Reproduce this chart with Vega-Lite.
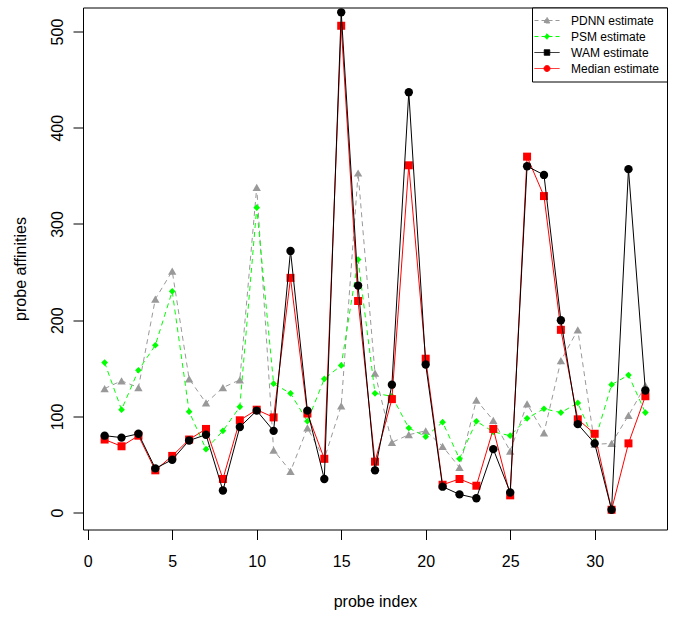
{
  "$schema": "https://vega.github.io/schema/vega-lite/v6.json",
  "autosize": "none",
  "width": 584,
  "height": 522,
  "padding": {"left": 83, "top": 7.5, "right": 18, "bottom": 91.5},
  "background": "white",
  "data": {
    "values": [
      {"index": 1, "PDNN estimate": 129, "PSM estimate": 156, "WAM estimate": 80, "Median estimate": 76},
      {"index": 2, "PDNN estimate": 137, "PSM estimate": 107, "WAM estimate": 78, "Median estimate": 69},
      {"index": 3, "PDNN estimate": 130, "PSM estimate": 148, "WAM estimate": 82, "Median estimate": 80},
      {"index": 4, "PDNN estimate": 222, "PSM estimate": 174, "WAM estimate": 46, "Median estimate": 44},
      {"index": 5, "PDNN estimate": 251, "PSM estimate": 230, "WAM estimate": 55, "Median estimate": 59},
      {"index": 6, "PDNN estimate": 139, "PSM estimate": 105, "WAM estimate": 75, "Median estimate": 76},
      {"index": 7, "PDNN estimate": 114, "PSM estimate": 66, "WAM estimate": 81, "Median estimate": 87},
      {"index": 8, "PDNN estimate": 130, "PSM estimate": 85, "WAM estimate": 23, "Median estimate": 35},
      {"index": 9, "PDNN estimate": 138, "PSM estimate": 110, "WAM estimate": 89, "Median estimate": 96},
      {"index": 10, "PDNN estimate": 338, "PSM estimate": 317, "WAM estimate": 106, "Median estimate": 107},
      {"index": 11, "PDNN estimate": 65, "PSM estimate": 134, "WAM estimate": 85, "Median estimate": 99},
      {"index": 12, "PDNN estimate": 43, "PSM estimate": 124, "WAM estimate": 272, "Median estimate": 244},
      {"index": 13, "PDNN estimate": 88, "PSM estimate": 95, "WAM estimate": 106, "Median estimate": 103},
      {"index": 14, "PDNN estimate": 56, "PSM estimate": 139, "WAM estimate": 35, "Median estimate": 56},
      {"index": 15, "PDNN estimate": 111, "PSM estimate": 153, "WAM estimate": 520, "Median estimate": 506},
      {"index": 16, "PDNN estimate": 353, "PSM estimate": 263, "WAM estimate": 236, "Median estimate": 220},
      {"index": 17, "PDNN estimate": 145, "PSM estimate": 124, "WAM estimate": 44, "Median estimate": 53},
      {"index": 18, "PDNN estimate": 73, "PSM estimate": 121, "WAM estimate": 133, "Median estimate": 118},
      {"index": 19, "PDNN estimate": 81, "PSM estimate": 88, "WAM estimate": 437, "Median estimate": 361},
      {"index": 20, "PDNN estimate": 85, "PSM estimate": 79, "WAM estimate": 154, "Median estimate": 160},
      {"index": 21, "PDNN estimate": 69, "PSM estimate": 94, "WAM estimate": 27, "Median estimate": 29},
      {"index": 22, "PDNN estimate": 47, "PSM estimate": 56, "WAM estimate": 19, "Median estimate": 35},
      {"index": 23, "PDNN estimate": 117, "PSM estimate": 95, "WAM estimate": 15, "Median estimate": 28},
      {"index": 24, "PDNN estimate": 96, "PSM estimate": 84, "WAM estimate": 66, "Median estimate": 87},
      {"index": 25, "PDNN estimate": 64, "PSM estimate": 80, "WAM estimate": 21, "Median estimate": 18},
      {"index": 26, "PDNN estimate": 113, "PSM estimate": 98, "WAM estimate": 360, "Median estimate": 370},
      {"index": 27, "PDNN estimate": 83, "PSM estimate": 108, "WAM estimate": 351, "Median estimate": 329},
      {"index": 28, "PDNN estimate": 158, "PSM estimate": 104, "WAM estimate": 200, "Median estimate": 190},
      {"index": 29, "PDNN estimate": 190, "PSM estimate": 114, "WAM estimate": 92, "Median estimate": 97},
      {"index": 30, "PDNN estimate": 71, "PSM estimate": 74, "WAM estimate": 72, "Median estimate": 82},
      {"index": 31, "PDNN estimate": 72, "PSM estimate": 133, "WAM estimate": 3, "Median estimate": 3},
      {"index": 32, "PDNN estimate": 101, "PSM estimate": 143, "WAM estimate": 357, "Median estimate": 72},
      {"index": 33, "PDNN estimate": 132, "PSM estimate": 104, "WAM estimate": 127, "Median estimate": 121}
    ]
  },
  "encoding": {
    "x": {
      "field": "index",
      "type": "quantitative",
      "title": "probe index",
      "scale": {"domain": [-0.28, 34.28], "nice": false, "zero": false},
      "axis": {"values": [0, 5, 10, 15, 20, 25, 30], "labelPadding": 14, "titlePadding": 24}
    }
  },
  "layer": [
    {
      "mark": {"type": "line", "color": "#999999", "strokeWidth": 1, "strokeDash": [5, 4]},
      "encoding": {"y": {"field": "PDNN estimate", "type": "quantitative", "title": "probe affinities", "scale": {"domain": [-17.5, 525], "nice": false, "zero": false}, "axis": {"values": [0, 100, 200, 300, 400, 500], "labelAngle": -90, "labelAlign": "center", "labelBaseline": "bottom", "labelPadding": 8, "titleX": -63, "titleY": 261, "titleAngle": -90, "titleBaseline": "middle", "titleAlign": "center"}}}
    },
    {
      "mark": {"type": "point", "shape": "triangle-up", "filled": true, "size": 70, "color": "#999999", "opacity": 1},
      "encoding": {"y": {"field": "PDNN estimate", "type": "quantitative", "title": "probe affinities"}}
    },
    {
      "mark": {"type": "line", "color": "#00ff00", "strokeWidth": 1, "strokeDash": [5, 4]},
      "encoding": {"y": {"field": "PSM estimate", "type": "quantitative", "title": "probe affinities"}}
    },
    {
      "mark": {"type": "point", "shape": "diamond", "filled": true, "size": 45, "color": "#00ff00", "opacity": 1},
      "encoding": {"y": {"field": "PSM estimate", "type": "quantitative", "title": "probe affinities"}}
    },
    {
      "mark": {"type": "line", "color": "#ff0000", "strokeWidth": 1},
      "encoding": {"y": {"field": "Median estimate", "type": "quantitative", "title": "probe affinities"}}
    },
    {
      "mark": {"type": "point", "shape": "square", "filled": true, "size": 64, "color": "#ff0000", "opacity": 1},
      "encoding": {"y": {"field": "Median estimate", "type": "quantitative", "title": "probe affinities"}}
    },
    {
      "mark": {"type": "line", "color": "#000000", "strokeWidth": 1},
      "encoding": {"y": {"field": "WAM estimate", "type": "quantitative", "title": "probe affinities"}}
    },
    {
      "mark": {"type": "point", "shape": "circle", "filled": true, "size": 70, "color": "#000000", "opacity": 1},
      "encoding": {"y": {"field": "WAM estimate", "type": "quantitative", "title": "probe affinities"}}
    },
    {
      "transform": [{"fold": ["PDNN estimate", "PSM estimate", "WAM estimate", "Median estimate"], "as": ["series", "value"]}],
      "mark": {"type": "point", "opacity": 0, "size": 100},
      "encoding": {
        "y": {"field": "value", "type": "quantitative", "title": "probe affinities"},
        "fill": {
          "field": "series", "type": "nominal",
          "scale": {"domain": ["PDNN estimate", "PSM estimate", "WAM estimate", "Median estimate"], "range": ["#999999", "#00ff00", "#000000", "#ff0000"]},
          "legend": {"title": null, "orient": "top-right", "offset": 0}
        },
        "stroke": {
          "field": "series", "type": "nominal",
          "scale": {"domain": ["PDNN estimate", "PSM estimate", "WAM estimate", "Median estimate"], "range": ["#999999", "#00ff00", "#000000", "#ff0000"]},
          "legend": {"title": null, "orient": "top-right", "offset": 0}
        },
        "shape": {
          "field": "series", "type": "nominal",
          "scale": {"domain": ["PDNN estimate", "PSM estimate", "WAM estimate", "Median estimate"], "range": [
            "M-2.5,0H2.5M0,-0.65L0.65,0.5L-0.65,0.5Z",
            "M-2.5,0H2.5M0,-0.55L0.55,0L0,0.55L-0.55,0Z",
            "M-2.5,0H2.5M-0.55,-0.55H0.55V0.55H-0.55Z",
            "M-2.5,0H2.5M-0.6,0A0.6,0.6,0,1,1,0.6,0A0.6,0.6,0,1,1,-0.6,0Z"
          ]},
          "legend": {"title": null, "orient": "top-right", "offset": 0}
        },
        "strokeDash": {
          "field": "series", "type": "nominal",
          "scale": {"domain": ["PDNN estimate", "PSM estimate", "WAM estimate", "Median estimate"], "range": [[4, 3], [4, 3], [1, 0], [1, 0]]},
          "legend": {"title": null, "orient": "top-right", "offset": 0}
        }
      }
    }
  ],
  "config": {
    "font": "Liberation Sans",
    "view": {"stroke": "#000000", "strokeWidth": 1},
    "axis": {
      "domain": false,
      "grid": false,
      "ticks": true,
      "tickColor": "#000000",
      "tickSize": 10,
      "tickWidth": 1,
      "labelFont": "Liberation Sans",
      "labelFontSize": 16,
      "labelColor": "#000000",
      "labelFlush": false,
      "labelOverlap": false,
      "titleFont": "Liberation Sans",
      "titleFontSize": 16,
      "titleFontWeight": "normal",
      "titleColor": "#000000"
    },
    "legend": {
      "labelFont": "Liberation Sans",
      "labelFontSize": 12,
      "labelColor": "#000000",
      "symbolSize": 100,
      "symbolStrokeWidth": 1,
      "symbolOpacity": 1,
      "symbolOffset": 2,
      "labelOffset": 18,
      "padding": 7,
      "rowPadding": 4,
      "strokeColor": "#000000",
      "fillColor": "#ffffff",
      "cornerRadius": 0
    }
  }
}
